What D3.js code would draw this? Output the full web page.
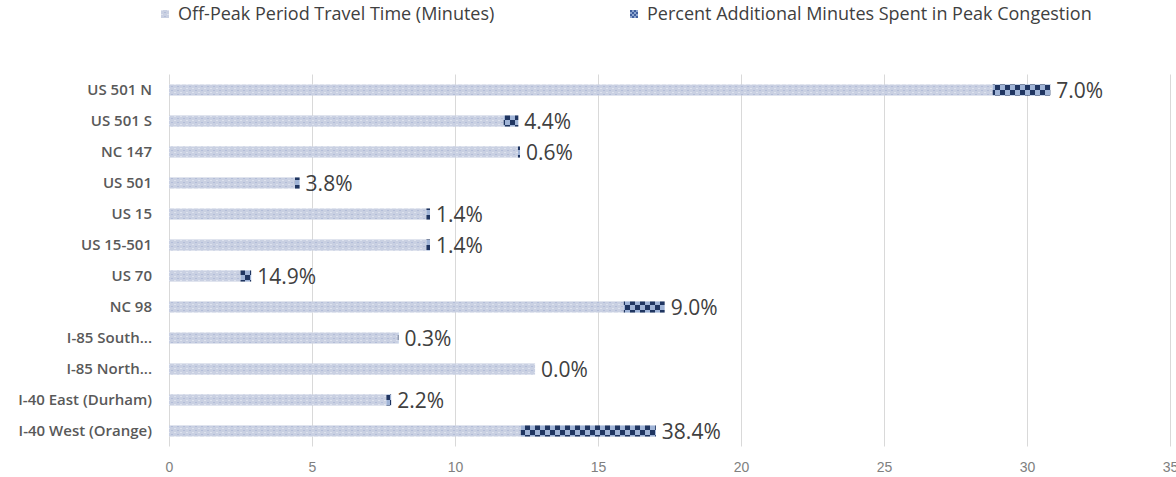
<!doctype html>
<html lang="en">
<head>
  <meta charset="utf-8">
  <title>Travel Time Chart</title>
  <script src="https://d3js.org/d3.v7.min.js"></script>
  <style>
    body { margin: 0; background: #fff; }
    svg { display: block; font-family: "Open Sans", sans-serif; }
    .tick line { stroke: #d9d9d9; }
    .domain { display: none; }
  </style>
</head>
<body>
<svg id="chart" width="1176" height="477"></svg>
<script>
  // chart data
  var categories = ["US 501 N", "US 501 S", "NC 147", "US 501", "US 15", "US 15-501",
    "US 70", "NC 98", "I-85 South...", "I-85 North...", "I-40 East (Durham)", "I-40 West (Orange)"];
  var offPeak = [28.8, 11.7, 12.2, 4.4, 9.0, 9.0, 2.5, 15.9, 8.0, 12.8, 7.6, 12.3];
  var pctAdditional = [7.0, 4.4, 0.6, 3.8, 1.4, 1.4, 14.9, 9.0, 0.3, 0.0, 2.2, 38.4];
  var xTicks = [0, 5, 10, 15, 20, 25, 30, 35];
  var seriesNames = ["Off-Peak Period Travel Time (Minutes)", "Percent Additional Minutes Spent in Peak Congestion"];

  var rows = categories.map(function(c, i) {
    return { cat: c, off: offPeak[i], pct: pctAdditional[i], extra: offPeak[i] * pctAdditional[i] / 100 };
  });

  var svg = d3.select("#chart");
  var plotLeft = 169, plotRight = 1170, plotTop = 74.5, plotBottom = 446.5;

  var x = d3.scaleLinear().domain([0, 35]).range([plotLeft, plotRight]);
  var y = d3.scaleBand().domain(categories).range([plotTop, plotBottom]).paddingInner(0.64).paddingOuter(0.32);

  // patterns
  var defs = svg.append("defs");
  var p1 = defs.append("pattern").attr("id", "light").attr("patternUnits", "userSpaceOnUse")
    .attr("width", 6).attr("height", 4);
  p1.append("rect").attr("width", 6).attr("height", 4).attr("fill", "#c9d0e2");
  p1.append("rect").attr("x", 0).attr("y", 0).attr("width", 2).attr("height", 1).attr("fill", "#dde2ee");
  p1.append("rect").attr("x", 3).attr("y", 2).attr("width", 2).attr("height", 1).attr("fill", "#b3bdd8");

  var p2 = defs.append("pattern").attr("id", "checker").attr("patternUnits", "userSpaceOnUse")
    .attr("width", 10).attr("height", 10);
  p2.append("rect").attr("width", 10).attr("height", 10).attr("fill", "#9fb3d6");
  p2.append("rect").attr("x", 0).attr("y", 0).attr("width", 5).attr("height", 5).attr("fill", "#1f3561");
  p2.append("rect").attr("x", 5).attr("y", 5).attr("width", 5).attr("height", 5).attr("fill", "#1f3561");

  var p3 = defs.append("pattern").attr("id", "checkerSmall").attr("patternUnits", "userSpaceOnUse")
    .attr("width", 4).attr("height", 4);
  p3.append("rect").attr("width", 4).attr("height", 4).attr("fill", "#8ea6d0");
  p3.append("rect").attr("x", 0).attr("y", 0).attr("width", 2).attr("height", 2).attr("fill", "#3f5f9e");
  p3.append("rect").attr("x", 2).attr("y", 2).attr("width", 2).attr("height", 2).attr("fill", "#3f5f9e");

  // gridlines + x axis
  var xAxis = d3.axisBottom(x).tickValues(xTicks).tickSize(-(plotBottom - plotTop)).tickPadding(16);
  var gx = svg.append("g").attr("transform", "translate(0," + plotBottom + ")").call(xAxis);
  gx.selectAll("text").attr("fill", "#808080").attr("font-size", 14);

  // y labels
  svg.append("g").selectAll("text")
    .data(categories).enter().append("text")
    .attr("x", 152)
    .attr("y", function(d) { return y(d) + y.bandwidth() / 2; })
    .attr("dy", "0.35em")
    .attr("text-anchor", "end")
    .attr("fill", "#595959")
    .attr("font-size", 15)
    .attr("font-weight", 600)
    .text(function(d) { return d; });

  // off-peak bars
  svg.append("g").selectAll("rect")
    .data(rows).enter().append("rect")
    .attr("x", x(0))
    .attr("y", function(d) { return y(d.cat); })
    .attr("width", function(d) { return x(d.off) - x(0); })
    .attr("height", y.bandwidth())
    .attr("fill", "url(#light)");

  // additional peak minutes
  svg.append("g").selectAll("rect")
    .data(rows).enter().append("rect")
    .attr("x", function(d) { return x(d.off); })
    .attr("y", function(d) { return y(d.cat); })
    .attr("width", function(d) { return x(d.off + d.extra) - x(d.off); })
    .attr("height", y.bandwidth())
    .attr("fill", "url(#checker)");

  // percent labels
  svg.append("g").selectAll("text")
    .data(rows).enter().append("text")
    .attr("x", function(d) { return x(d.off + d.extra) + 6; })
    .attr("y", function(d) { return y(d.cat) + y.bandwidth() / 2; })
    .attr("dy", "0.36em")
    .attr("fill", "#404040")
    .attr("font-size", 21)
    .text(function(d) { return d.pct.toFixed(1) + "%"; });

  // legend
  var legend = [{ name: seriesNames[0], fill: "url(#light)", x: 161 }, { name: seriesNames[1], fill: "url(#checkerSmall)", x: 630 }];
  var lg = svg.append("g").selectAll("g").data(legend).enter().append("g")
    .attr("transform", function(d) { return "translate(" + d.x + ",14)"; });
  lg.append("rect").attr("x", 0).attr("y", -4).attr("width", 8).attr("height", 8).attr("fill", function(d) { return d.fill; });
  lg.append("text").attr("x", 17).attr("dy", "0.35em")
    .attr("fill", "#404040").attr("font-size", 18)
    .text(function(d) { return d.name; });
</script>
</body>
</html>
